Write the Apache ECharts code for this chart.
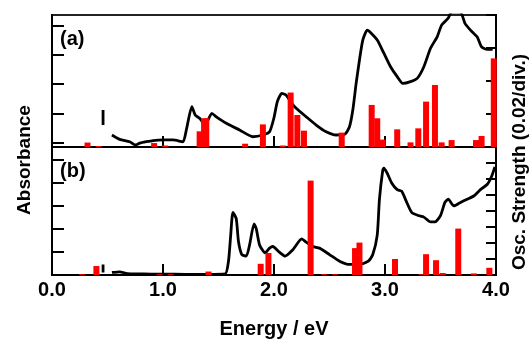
<!DOCTYPE html>
<html>
<head>
<meta charset="utf-8">
<script src="https://cdn.jsdelivr.net/npm/echarts@6/dist/echarts.min.js"></script>
<style>
html,body{margin:0;padding:0;background:#fff;}
#c{width:532px;height:340px;}
</style>
</head>
<body>
<div id="c"></div>
<script>
// ---- Panel (a): absorbance curve (arb. units, 1 = one left-axis division)
const energyA = [0.54,0.61,0.70,0.75,0.79,0.85,0.91,1.00,1.09,1.18,1.21,1.26,1.29,1.33,1.38,1.44,1.48,1.57,1.69,1.81,1.90,1.96,2.00,2.03,2.07,2.11,2.16,2.20,2.29,2.38,2.47,2.56,2.64,2.68,2.71,2.74,2.77,2.80,2.84,2.86,2.93,2.99,3.05,3.11,3.16,3.23,3.29,3.35,3.41,3.47,3.51,3.57,3.60,3.68,3.72,3.77,3.83,3.87,3.92,3.97];
const absA    = [0.41,0.26,0.18,0.07,0.13,0.18,0.22,0.24,0.24,0.18,0.58,1.38,1.09,0.98,0.75,1.15,1.03,0.81,0.58,0.35,0.41,0.52,1.00,1.55,1.83,1.77,1.49,1.32,1.03,0.75,0.52,0.41,0.44,0.69,1.26,2.17,2.97,3.65,3.99,3.94,3.65,3.20,2.74,2.40,2.17,2.23,2.34,2.74,3.37,3.76,4.16,4.40,4.60,4.60,4.22,3.99,3.76,3.42,3.33,3.33];
const stubAx = [0.46,0.46];
const stubAy = [0.75,1.26];
// ---- Panel (a): oscillator strengths
const oscAx = [0.32,0.42,0.92,1.02,1.33,1.37,1.39,1.74,1.90,2.08,2.15,2.21,2.27,2.61,2.88,2.93,2.98,3.11,3.23,3.30,3.37,3.45,3.51,3.60,3.82,3.87,3.98];
const oscAy = [0.0027,0.0006,0.0024,0.0009,0.0095,0.0174,0.0174,0.0020,0.0137,0.0009,0.0330,0.0194,0.0099,0.0087,0.0255,0.0174,0.0045,0.0107,0.0028,0.0113,0.0275,0.0376,0.0028,0.0042,0.0042,0.0067,0.0537];

// ---- Panel (b): absorbance curve
const energyB = [0.54,0.61,0.68,0.80,0.90,1.00,1.20,1.40,1.56,1.59,1.61,1.63,1.66,1.68,1.71,1.75,1.78,1.82,1.84,1.87,1.92,1.96,1.99,2.04,2.10,2.17,2.25,2.29,2.35,2.41,2.50,2.59,2.68,2.77,2.85,2.89,2.93,2.95,2.98,2.99,3.02,3.06,3.11,3.15,3.19,3.24,3.30,3.35,3.41,3.45,3.50,3.54,3.57,3.62,3.68,3.74,3.80,3.86,3.92,3.96,3.99];
const absB    = [0.11,0.14,0.06,0.05,0.04,0.04,0.03,0.03,0.05,0.60,1.74,2.73,2.45,1.46,0.89,0.82,1.31,2.23,2.02,1.31,0.96,1.17,1.24,1.03,0.82,1.10,1.57,1.43,1.24,1.17,0.89,0.60,0.46,0.46,0.60,0.89,1.74,3.30,4.57,4.65,4.43,4.01,3.72,3.65,3.23,2.73,2.59,2.52,2.31,2.31,2.59,3.16,3.30,3.01,3.16,3.30,3.44,3.72,3.94,4.29,4.71];
const stubBx = [0.46,0.46];
const stubBy = [0.11,0.46];
// ---- Panel (b): oscillator strengths
const oscBx = [0.27,0.40,0.97,1.07,1.41,1.88,1.95,2.33,2.45,2.55,2.73,2.77,3.09,3.33,3.37,3.46,3.52,3.66,3.80,3.94];
const oscBy = [0.0010,0.0112,0.0010,0.0010,0.0043,0.0140,0.0275,0.1180,0.0010,0.0010,0.0336,0.0405,0.0200,0.0010,0.0260,0.0185,0.0025,0.0580,0.0020,0.0090];

// ---- Axis ticks and labels
const xTicks = [0,1,2,3,4];
const leftTicksA = [0.15,1.15,2.15,3.15,4.15];
const leftTicksB = [0,1,2,3,4,5];
const xLabel = 'Energy / eV';
const leftLabel = 'Absorbance';
const rightLabel = 'Osc. Strength (0.02/div.)';
const panelLabels = ['(a)','(b)'];

const zip = (a,b) => a.map((v,i) => [v,b[i]]);
const FONT = '"Liberation Sans", Arial, sans-serif';

const chart = echarts.init(document.getElementById('c'), null, {renderer:'canvas'});

function xAxisDef(gi, showLabels){
  return {
    type:'value', gridIndex:gi, min:0, max:4, interval:1,
    axisLine:{show:true, onZero:false, lineStyle:{color:'#000',width:2}},
    axisTick:{show:true, inside:true, length:11, lineStyle:{color:'#000',width:2}},
    axisLabel:{show:showLabels, color:'#000', fontFamily:FONT, fontWeight:'bold', fontSize:20, margin:5,
               formatter: v => v.toFixed(1)},
    splitLine:{show:false},
    name: showLabels ? xLabel : '', nameLocation:'middle', nameGap:44,
    nameTextStyle:{color:'#000', fontFamily:FONT, fontWeight:'bold', fontSize:20}
  };
}

const option = {
  animation:false,
  backgroundColor:'#fff',
  grid:[
    {left:52, right:36, top:15, height:132, show:true, borderColor:'#222', borderWidth:2, backgroundColor:'transparent'},
    {left:52, right:36, top:147, height:131, show:true, borderColor:'#222', borderWidth:2, backgroundColor:'transparent'}
  ],
  xAxis:[ xAxisDef(0,false), xAxisDef(1,true) ],
  yAxis:[
    {type:'value', gridIndex:0, position:'left', min:0, max:4.505,
     axisLine:{show:true, lineStyle:{color:'#000',width:2}},
     axisTick:{show:true, inside:true, length:12, customValues:leftTicksA, lineStyle:{color:'#000',width:2}},
     axisLabel:{show:false}, splitLine:{show:false}},
    {type:'value', gridIndex:0, position:'right', min:0, max:0.08, interval:0.02,
     axisLine:{show:true, lineStyle:{color:'#000',width:2}},
     axisTick:{show:true, inside:true, length:10, lineStyle:{color:'#000',width:2}},
     axisLabel:{show:false}, splitLine:{show:false}},
    {type:'value', gridIndex:1, position:'left', min:0, max:5.574,
     axisLine:{show:true, lineStyle:{color:'#000',width:2}},
     axisTick:{show:true, inside:true, length:12, customValues:leftTicksB, lineStyle:{color:'#000',width:2}},
     axisLabel:{show:false}, splitLine:{show:false}},
    {type:'value', gridIndex:1, position:'right', min:0, max:0.16, interval:0.02,
     axisLine:{show:true, lineStyle:{color:'#000',width:2}},
     axisTick:{show:true, inside:true, length:10, lineStyle:{color:'#000',width:2}},
     axisLabel:{show:false}, splitLine:{show:false}}
  ],
  series:[
    {type:'line', xAxisIndex:0, yAxisIndex:0, data:zip(energyA,absA), showSymbol:false, smooth:0.2,
     lineStyle:{color:'#000', width:2.8}, z:2},
    {type:'line', xAxisIndex:0, yAxisIndex:0, data:zip(stubAx,stubAy), showSymbol:false,
     lineStyle:{color:'#000', width:2.8}, z:2},
    {type:'bar', xAxisIndex:0, yAxisIndex:1, data:zip(oscAx,oscAy), barWidth:6,
     itemStyle:{color:'#ff0000'}, z:3},
    {type:'line', xAxisIndex:1, yAxisIndex:2, data:zip(energyB,absB), showSymbol:false, smooth:0.2,
     lineStyle:{color:'#000', width:2.8}, z:2},
    {type:'line', xAxisIndex:1, yAxisIndex:2, data:zip(stubBx,stubBy), showSymbol:false,
     lineStyle:{color:'#000', width:2.8}, z:2},
    {type:'bar', xAxisIndex:1, yAxisIndex:3, data:zip(oscBx,oscBy), barWidth:6,
     itemStyle:{color:'#ff0000'}, z:3}
  ],
  graphic:[
    {type:'text', left:60, top:29, style:{text:panelLabels[0], fill:'#000', font:'bold 20px ' + FONT}},
    {type:'text', left:60, top:161, style:{text:panelLabels[1], fill:'#000', font:'bold 20px ' + FONT}},
    {type:'text', x:25, y:160, rotation:Math.PI/2,
     style:{text:leftLabel, fill:'#000', font:'bold 19px ' + FONT, textAlign:'center', textVerticalAlign:'middle'}},
    {type:'text', x:520, y:162, rotation:Math.PI/2,
     style:{text:rightLabel, fill:'#000', font:'bold 19px ' + FONT, textAlign:'center', textVerticalAlign:'middle'}}
  ]
};
chart.setOption(option);
</script>
</body>
</html>
